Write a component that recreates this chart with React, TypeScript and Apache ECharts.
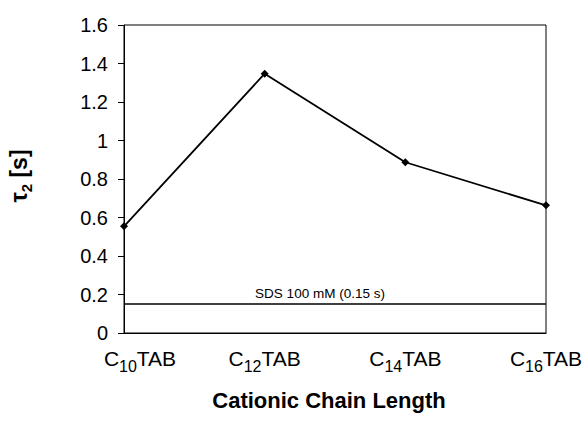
import React, { useEffect, useRef } from "react";
import * as echarts from "echarts";

// Chain-length labels: [subscript digits] between "C" and "TAB"
const chainNumbers = ["10", "12", "14", "16"];
// Relaxation time tau_2 in seconds for each surfactant
const tau2Values = [0.554, 1.347, 0.887, 0.663];
// Reference value for SDS at 100 mM
const sdsValue = 0.15;
const sdsLabel = "SDS 100 mM (0.15 s)";
const yTicks = { min: 0, max: 1.6, interval: 0.2 };

const FONT = "'Liberation Sans', Arial, Helvetica, sans-serif";

export default function App() {
  const ref = useRef<HTMLDivElement>(null);

  useEffect(() => {
    if (!ref.current) return;
    const chart = echarts.init(ref.current, null, { renderer: "svg" });
    const categories = chainNumbers.map((n) => `C${n}TAB`);

    chart.setOption({
      animation: false,
      backgroundColor: "#ffffff",
      textStyle: { fontFamily: FONT, color: "#000" },
      grid: {
        left: 124,
        top: 25,
        right: 37,
        bottom: 91,
        show: true,
        borderColor: "#000",
        borderWidth: 1,
        containLabel: false,
        outerBoundsMode: "none",
      },
      xAxis: {
        type: "category",
        data: categories,
        boundaryGap: false,
        axisLine: { lineStyle: { color: "#000", width: 1 } },
        axisTick: { show: false },
        splitLine: { show: false },
        axisLabel: {
          interval: 0,
          hideOverlap: false,
          margin: 15,
          color: "#000",
          fontFamily: FONT,
          formatter: (_v: string, i: number) => {
            const n = chainNumbers[i];
            const lead = i === 0 ? "{pad| }" : "";
            return `${lead}{c|C}{s|${n}}{c|TAB}`;
          },
          rich: {
            pad: { width: 32, fontSize: 21 },
            c: { fontSize: 21, fontFamily: FONT, color: "#000", verticalAlign: "bottom", padding: [0, 0, 5, 0] },
            s: { fontSize: 16, fontFamily: FONT, color: "#000", verticalAlign: "bottom" },
          },
        },
        name: "Cationic Chain Length",
        nameLocation: "middle",
        nameGap: 56,
        nameTextStyle: { fontSize: 22, fontWeight: "bold", color: "#000", fontFamily: FONT, padding: [0, 12, 0, 0] },
      },
      yAxis: {
        type: "value",
        min: yTicks.min,
        max: yTicks.max,
        interval: yTicks.interval,
        axisLine: { show: true, lineStyle: { color: "#000", width: 1 } },
        axisTick: { show: true, length: 6, lineStyle: { color: "#000" } },
        splitLine: { show: false },
        axisLabel: { margin: 16, fontSize: 20, color: "#000", fontFamily: FONT },
        name: "{t|τ}{s|2}{t| [s]}",
        nameLocation: "middle",
        nameRotate: 90,
        nameGap: 90,
        nameTextStyle: {
          padding: [0, 0, 0, 6],
          rich: {
            t: { fontSize: 23, fontWeight: "bold", color: "#000", fontFamily: FONT, verticalAlign: "bottom", padding: [0, 0, 4, 0] },
            s: { fontSize: 15, fontWeight: "bold", color: "#000", fontFamily: FONT, verticalAlign: "bottom" },
          },
        },
      },
      series: [
        {
          type: "line",
          data: tau2Values,
          symbol: "diamond",
          symbolSize: 8,
          lineStyle: { color: "#000", width: 1.8 },
          itemStyle: { color: "#000" },
          markLine: {
            silent: true,
            symbol: "none",
            lineStyle: { color: "#000", width: 1.5, type: "solid" },
            label: {
              show: true,
              position: "insideMiddleTop",
              formatter: sdsLabel,
              fontSize: 13.5,
              color: "#000",
              fontFamily: FONT,
              distance: [0, 4],
              offset: [-15, 0],
            },
            data: [{ yAxis: sdsValue }],
          },
        },
      ],
    });

    return () => chart.dispose();
  }, []);

  return (
    <div
      ref={ref}
      style={{ position: "fixed", left: 0, top: 0, width: 583, height: 424, background: "#fff" }}
    />
  );
}
